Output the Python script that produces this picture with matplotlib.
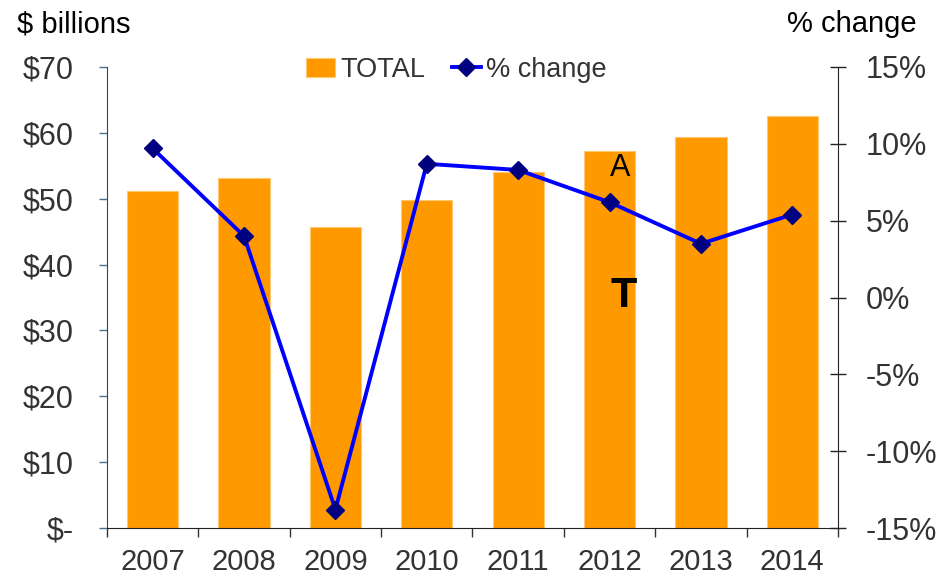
import numpy as np
import matplotlib.pyplot as plt

plt.rcParams['font.family'] = ['Liberation Sans', 'DejaVu Sans']

years = ['2007', '2008', '2009', '2010', '2011', '2012', '2013', '2014']
total = [51.1, 53.1, 45.7, 49.8, 54.0, 57.3, 59.4, 62.5]
pct_change = [9.7, 4.0, -13.8, 8.7, 8.3, 6.2, 3.5, 5.4]

left_ticks = [0, 10, 20, 30, 40, 50, 60, 70]
left_labels = ['$-', '$10', '$20', '$30', '$40', '$50', '$60', '$70']
right_ticks = [-15, -10, -5, 0, 5, 10, 15]
right_labels = ['-15%', '-10%', '-5%', '0%', '5%', '10%', '15%']

fig = plt.figure(figsize=(9.5, 5.77), dpi=100)
ax = fig.add_axes([0.1126, 0.0849, 0.7695, 0.799])
ax2 = ax.twinx()

x = np.arange(len(years))
bars = ax.bar(x, total, width=0.56, color='#FF9900', edgecolor='#FFC870',
              linewidth=0.8, label='TOTAL', zorder=2)
line, = ax2.plot(x, pct_change, color='#0000FF', lw=2.8, marker='D', markersize=9.5,
                 markerfacecolor='#000080', markeredgecolor='#000080', label='% change')

ax.set_xlim(-0.5, len(years) - 0.5)
ax.set_ylim(0, 70)
ax2.set_ylim(-15, 15)

ax.set_yticks(left_ticks)
ax.set_yticklabels(left_labels)
ax2.set_yticks(right_ticks)
ax2.set_yticklabels(right_labels)

# category ticks at boundaries, labels in the middle
ax.set_xticks(np.arange(len(years) + 1) - 0.5)
ax.set_xticklabels([])
ax.set_xticks(x, minor=True)
ax.set_xticklabels(years, minor=True)
ax.tick_params(axis='x', which='major', length=6.5, width=1, color='#333333', direction='out')
ax.tick_params(axis='x', which='minor', length=0, pad=14.5, labelsize=21, labelcolor='#333333')

ax.tick_params(axis='y', length=6, width=1, color='#4A7390', labelsize=22,
               labelcolor='#333333', pad=18)
ax2.tick_params(axis='y', length=11.5, width=1, color='#222222', direction='inout',
                labelsize=22, labelcolor='#333333', pad=14)

for s in ['top', 'right']:
    ax.spines[s].set_visible(False)
ax2.spines['top'].set_visible(False)
ax2.spines['left'].set_visible(False)
ax2.spines['bottom'].set_visible(False)
ax.spines['left'].set_color('#1F4E79')
ax.spines['bottom'].set_color('#222222')
ax2.spines['right'].set_color('#222222')

fig.text(0.018, 0.958, '$ billions', fontsize=21, va='center', ha='left')
fig.text(0.965, 0.958, '% change', fontsize=21, va='center', ha='right')

ax.legend([bars, line], ['TOTAL', '% change'], loc='upper center',
          bbox_to_anchor=(0.478, 1.075), ncol=2, frameon=False, fontsize=19.5,
          handlelength=1.05, handletextpad=0.2, columnspacing=1.0,
          labelcolor='#333333')

ax.text(5.12, 54.6, 'A', fontsize=22, ha='center', va='center')
ax.text(5.16, 35.2, 'T', fontsize=31, fontweight='bold', ha='center', va='center')

fig.savefig('out.png', dpi=100)
